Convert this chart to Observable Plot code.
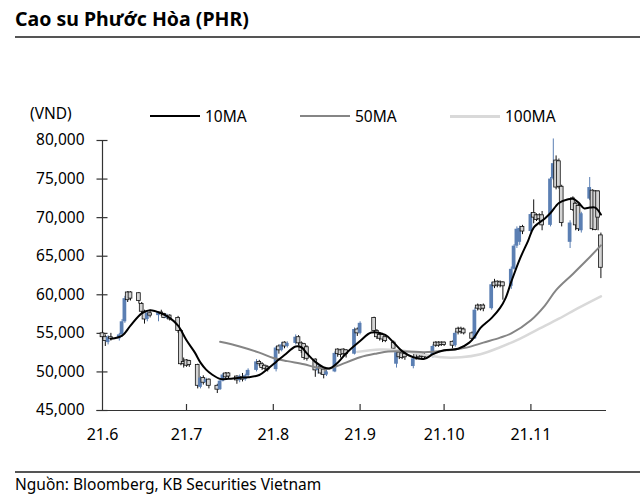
<!DOCTYPE html>
<html>
<head>
<meta charset="utf-8">
<script src="https://cdn.jsdelivr.net/npm/d3@7"></script>
<script src="https://cdn.jsdelivr.net/npm/@observablehq/plot@0.6"></script>
<style>
  html, body { margin: 0; padding: 0; background: #fff; }
  body { width: 640px; height: 501px; position: relative; overflow: hidden; font-family: "Noto Sans", sans-serif; color: #000; }
  #chart { position: absolute; left: 0; top: 0; }
  .abs { position: absolute; white-space: nowrap; line-height: 18px; }
  .title { left: 15px; top: 8px; font-size: 19.5px; font-weight: 700; line-height: 22px; }
  .hr { position: absolute; left: 15px; right: 0; height: 1.5px; background: #555; }
  .lg-line { position: absolute; height: 2px; }
  .lg-text { font-size: 15.5px; }
  .caption { left: 15px; top: 475px; font-size: 15.5px; }
</style>
</head>
<body>
<div id="chart"></div>
<div class="abs title">Cao su Phước Hòa (PHR)</div>
<div class="hr" style="top:36px"></div>
<div class="abs lg-text" style="left:30px; top:104px;">(VND)</div>
<div class="lg-line" style="left:150px; width:50px; top:115px; background:#000;"></div>
<div class="abs lg-text" style="left:205px; top:107px;">10MA</div>
<div class="lg-line" style="left:300px; width:50px; top:115px; background:#858585;"></div>
<div class="abs lg-text" style="left:355px; top:107px;">50MA</div>
<div class="lg-line" style="left:450px; width:50px; top:115px; height:2.5px; background:#d9d9d9;"></div>
<div class="abs lg-text" style="left:505px; top:107px;">100MA</div>
<div class="hr" style="top:471px"></div>
<div class="abs caption">Nguồn: Bloomberg, KB Securities Vietnam</div>
<script>
// ---- trading days per month (2021) ----
const junDays = [1,2,3,4,7,8,9,10,11,14,15,16,17,18,21,22,23,24,25,28,29,30];
const julDays = [1,2,5,6,7,8,9,12,13,14,15,16,19,20,21,22,23,26,27,28,29,30];
const augDays = [2,3,4,5,6,9,10,11,12,13,16,17,18,19,20,23,24,25,26,27,30,31];
const sepDays = [1,6,7,8,9,10,13,14,15,16,17,20,21,22,23,24,27,28,29,30];
const octDays = [1,4,5,6,7,8,11,12,13,14,15,18,19,20,21,22,25,26,27,28,29];
const novDays = [1,2,3,4,5,8,9,10,11,12,15,16,17,18,19,22,23,24,25,26];

// ---- OHLC per month: [open, high, low, close] ----
const junOHLC = [
  [55000,55300,54200,54500],[54500,54800,53300,54000],[53800,54700,53500,54500],[54500,55000,54000,54300],
  [54300,55000,54000,54800],[54800,56800,54500,56500],[56500,59800,56300,59500],[60300,60400,59000,59300],
  [60300,60400,59200,59500],[60200,60300,58800,59200],[58800,59000,57500,57800],[57800,58000,56200,56800],
  [56800,57800,56500,57600],[57600,58000,57000,57300],[57300,57800,56500,57700],[57700,58000,57200,57500],
  [57500,57600,56900,57000],[57000,57500,56800,57300],[57300,57400,56600,56800],[57000,57200,55000,55300],
  [55300,55500,50800,51000],[51300,51800,50500,51000]
];
const julOHLC = [
  [51500,51600,50600,50800],[51400,51500,50600,50900],[50900,51000,47800,48200],[48000,49400,47800,49200],
  [49200,49500,48300,48600],[48600,49200,48200,49000],[49000,49100,47800,48200],[48200,48400,47200,47700],
  [47700,49000,47600,48800],[48800,49800,48700,49600],[49800,49900,49100,49300],[49800,49900,49100,49400],
  [49400,49500,48400,48900],[48900,49600,48600,49400],[49300,49800,48700,49000],[49000,49700,48800,49500],
  [49500,50400,49300,50200],[50200,51600,50000,51300],[51300,51500,50700,51000],[51000,51200,50200,50500],
  [50800,50900,50200,50400],[50600,50800,50000,50300]
];
const augOHLC = [
  [50300,53300,50000,53100],[53300,53500,52300,52800],[52800,53800,52600,53500],[53800,53900,53000,53300],
  [53300,53900,53100,53700],[53700,54800,53500,54500],[54500,54700,53400,53700],[53700,53900,52400,52700],
  [53600,53700,51500,51800],[53200,53400,51400,51700],[51600,51700,49300,50200],[50200,50800,49700,50600],
  [50600,50700,49600,49800],[50300,50400,49100,49600],[49600,50200,49400,50000],[50000,52600,49900,52400],
  [52900,53000,51900,52300],[52800,52900,51800,52200],[52900,53000,51900,52300],[52800,52900,51800,52300],
  [52300,55700,52200,55500],[55500,55700,54600,55000]
];
const sepOHLC = [
  [55000,56500,54800,56300],[57000,57100,55000,55300],[55300,55500,54200,54500],[54800,55000,54000,54300],
  [54800,55000,53800,54200],[54500,54800,53800,54000],[53800,54000,52800,53000],[51000,52800,50500,52500],
  [52500,52700,51600,51900],[52400,52500,51600,51800],[52300,52500,51500,51900],[50700,51900,50400,51700],
  [52300,52400,51500,51800],[52300,52400,51600,51900],[52300,52500,51700,52000],[52200,52400,51600,51900],
  [51900,53500,51800,53300],[53800,53900,53200,53400],[53800,53900,53200,53400],[53800,53900,53300,53500]
];
const octOHLC = [
  [53800,53900,53300,53500],[53900,54000,53000,53400],[53400,55200,53200,55000],[55600,55800,54800,55100],
  [55600,55800,54900,55200],[55500,55700,54800,55000],[55000,55200,54000,54300],[54300,58300,54200,58000],
  [58600,58800,57900,58200],[58600,58700,57900,58100],[58600,58800,57800,58200],[58200,61600,58000,61300],
  [61600,62000,60800,61100],[61700,61800,60900,61200],[61600,61800,60900,61200],[61600,61700,59300,61100],
  [61100,63600,60700,63300],[63300,66500,63200,66300],[66300,68800,66000,68500],[66800,68900,66400,68600],
  [68800,69000,67800,68200]
];
const novOHLC = [
  [68200,70600,68000,70400],[70600,72300,69200,70000],[70300,70500,69500,69700],[70300,70500,69500,69800],
  [70300,70800,68300,69000],[69000,75200,68800,75000],[75000,80200,74800,77000],[77400,78000,73600,73900],
  [77300,77600,73700,74000],[74000,74200,68800,69300],[66800,69600,66000,69300],[72500,72700,70800,71000],
  [71800,72000,68300,69000],[71500,71700,68200,68500],[68300,70700,68000,70500],[72400,75200,72200,73900],
  [73500,73600,68300,68500],[73400,73500,68300,68400],[73400,73500,68300,70000],[67700,68000,62100,63500]
];

// ---- moving averages: [date, value] ----
const ma10 = [
  ["2021-06-04",54300],["2021-06-08",54700],["2021-06-11",56000],["2021-06-15",57600],["2021-06-18",58000],
  ["2021-06-22",57600],["2021-06-25",57000],["2021-06-28",56000],["2021-07-01",54100],["2021-07-04",52500],
  ["2021-07-06",51200],["2021-07-08",50300],["2021-07-10",49700],["2021-07-13",49100],["2021-07-16",49100],
  ["2021-07-20",49250],["2021-07-23",49300],["2021-07-27",49600],["2021-07-30",50400],["2021-08-02",51300],
  ["2021-08-05",52200],["2021-08-09",53300],["2021-08-11",53200],["2021-08-13",52400],["2021-08-16",51300],
  ["2021-08-19",50600],["2021-08-21",50440],["2021-08-24",51200],["2021-08-27",52400],["2021-09-01",54000],
  ["2021-09-05",55100],["2021-09-10",54800],["2021-09-13",53800],["2021-09-16",52700],["2021-09-20",51900],
  ["2021-09-24",51700],["2021-09-27",52300],["2021-10-01",52800],["2021-10-06",53000],["2021-10-10",53800],
  ["2021-10-12",54600],["2021-10-14",55700],["2021-10-18",57000],["2021-10-21",58300],["2021-10-23",59600],
  ["2021-10-25",61700],["2021-10-28",64600],["2021-10-31",67000],["2021-11-02",68700],["2021-11-06",69900],
  ["2021-11-08",70600],["2021-11-11",71900],["2021-11-14",72350],["2021-11-16",72450],["2021-11-18",71950],
  ["2021-11-20",71200],["2021-11-22",71300],["2021-11-24",71300],["2021-11-26",70400]
];
const ma50 = [
  ["2021-07-13",53900],["2021-07-20",53300],["2021-07-27",52500],["2021-08-01",51800],["2021-08-06",51400],
  ["2021-08-12",51000],["2021-08-16",50600],["2021-08-21",50450],["2021-08-24",50800],["2021-09-01",51900],
  ["2021-09-07",52400],["2021-09-11",52650],["2021-09-18",52650],["2021-09-24",52550],["2021-10-02",52800],
  ["2021-10-09",53150],["2021-10-15",53800],["2021-10-21",54450],["2021-10-25",55000],["2021-11-01",56700],
  ["2021-11-06",58600],["2021-11-10",60600],["2021-11-16",62700],["2021-11-21",64500],["2021-11-26",66400]
];
const ma100 = [
  ["2021-08-31",52600],["2021-09-08",52900],["2021-09-15",52800],["2021-09-23",52300],["2021-09-30",51900],
  ["2021-10-07",51900],["2021-10-14",52300],["2021-10-21",53200],["2021-10-28",54300],["2021-11-04",55600],
  ["2021-11-11",56900],["2021-11-18",58300],["2021-11-26",59800]
];

// ---- axis ----
const yTicks = [45000,50000,55000,60000,65000,70000,75000,80000];
const xTickLabels = ["21.6","21.7","21.8","21.9","21.10","21.11"];
const xTickMonths = [5,6,7,8,9,10];

// ---- build table ----
const months = [[5,junDays,junOHLC],[6,julDays,julOHLC],[7,augDays,augOHLC],[8,sepDays,sepOHLC],[9,octDays,octOHLC],[10,novDays,novOHLC]];
const candles = [];
for (const [m, days, ohlc] of months) {
  days.forEach((d, i) => {
    const [o, h, l, c] = ohlc[i];
    candles.push({date: new Date(Date.UTC(2021, m, d)), open: o, high: h, low: l, close: c, up: c >= o});
  });
}
const toLine = arr => arr.map(([d, v]) => ({date: new Date(d + "T00:00:00Z"), value: v}));
const monthTicks = xTickMonths.map(m => new Date(Date.UTC(2021, m, 1)));
const x0 = new Date(Date.UTC(2021, 5, 1));
const x1 = new Date(Date.UTC(2021, 10, 28));
const BLUE = "#5b7fb3";
const W = 640, H = 501, ML = 102, MR = 34, MT = 140, MB = 91;
const frameW = W - ML - MR, frameH = H - MT - MB;

const chart = Plot.plot({
  width: W, height: H,
  marginLeft: ML, marginRight: MR, marginTop: MT, marginBottom: MB,
  style: {fontFamily: "Noto Sans, sans-serif", fontSize: "15px", color: "#000", background: "transparent", overflow: "visible"},
  x: {type: "utc", domain: [x0, x1]},
  y: {domain: [45000, 80000]},
  marks: [
    // axis lines and cross ticks
    Plot.ruleX([x0], {stroke: "#333", strokeWidth: 1.2}),
    Plot.ruleY([45000], {stroke: "#333", strokeWidth: 1.2, insetLeft: -5.5}),
    Plot.ruleY(yTicks, {stroke: "#333", strokeWidth: 1.2, insetLeft: -5.5, insetRight: frameW - 5.5}),
    Plot.ruleX(monthTicks.slice(1), {stroke: "#333", strokeWidth: 1.2, insetTop: frameH - 6}),
    Plot.axisY({ticks: yTicks, tickSize: 0, tickPadding: 18, fontSize: 15.5, tickFormat: d3.format(","), label: null}),
    Plot.axisX({ticks: monthTicks, tickSize: 0, tickPadding: 18, fontSize: 16, label: null,
      tickFormat: d => xTickLabels[xTickMonths.indexOf(d.getUTCMonth())]}),
    // candles
    Plot.ruleX(candles, {x: "date", y1: "low", y2: "high", stroke: d => d.up ? BLUE : "#111", strokeWidth: 1}),
    Plot.rect(candles, {
      x1: d => d3.utcHour.offset(d.date, -16), x2: d => d3.utcHour.offset(d.date, 16),
      y1: d => Math.min(d.open, d.close), y2: d => Math.max(d.open, d.close),
      fill: d => d.up ? BLUE : "#d4d4d4",
      stroke: d => d.up ? "none" : "#111", strokeWidth: 0.8
    }),
    // moving averages
    Plot.line(toLine(ma100), {x: "date", y: "value", stroke: "#d9d9d9", strokeWidth: 2.5, curve: "catmull-rom"}),
    Plot.line(toLine(ma50), {x: "date", y: "value", stroke: "#858585", strokeWidth: 2, curve: "catmull-rom"}),
    Plot.line(toLine(ma10), {x: "date", y: "value", stroke: "#000", strokeWidth: 2, curve: "catmull-rom"})
  ]
});
document.getElementById("chart").appendChild(chart);
</script>
</body>
</html>
